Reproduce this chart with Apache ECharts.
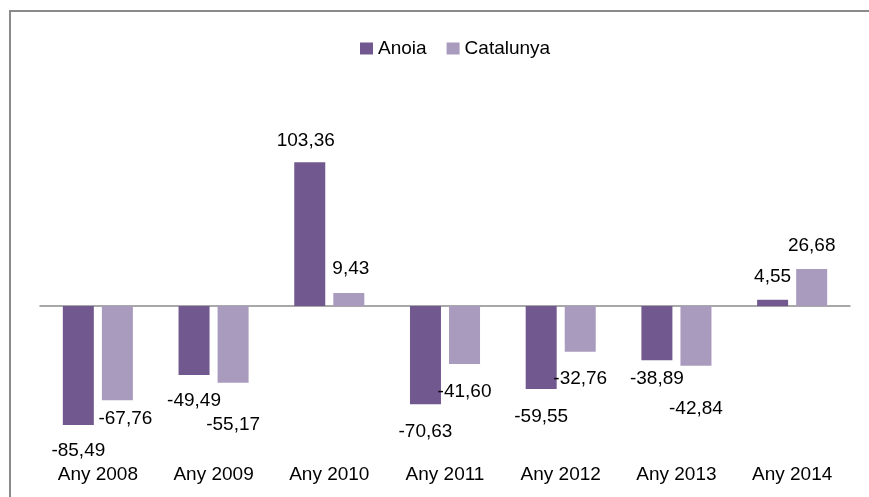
<!DOCTYPE html>
<html>
<head>
<meta charset="utf-8">
<script src="https://cdn.jsdelivr.net/npm/echarts@6/dist/echarts.min.js"></script>
<style>html,body{margin:0;padding:0;background:#fff;}#c{width:869px;height:497px;}</style>
</head>
<body>
<div id="c"></div>
<script>
const categories = ['Any 2008', 'Any 2009', 'Any 2010', 'Any 2011', 'Any 2012', 'Any 2013', 'Any 2014'];
const seriesNames = ['Anoia', 'Catalunya'];
const anoia = [-85.49, -49.49, 103.36, -70.63, -59.55, -38.89, 4.55];
const catalunya = [-67.76, -55.17, 9.43, -41.60, -32.76, -42.84, 26.68];

// label displacement (style): [dx, dy] of label centre from bar end
const anoiaLabelShift = [[0, 26], [0, 26], [-4, -22], [0, 28], [0, 28], [0, 19], [0, -24]];
const catalunyaLabelShift = [[8, 19], [0, 42], [2, -25], [0, 28], [0, 28], [0, 44], [0, -24]];

const FONT = '"Liberation Sans", Arial, sans-serif';
const FS = 19;
const HALF = 10;

function fmt(v) { return v.toFixed(2).replace('.', ','); }

function buildData(values, shifts) {
  return values.map((v, i) => {
    const s = shifts[i];
    const neg = v < 0;
    return {
      value: v,
      label: {
        position: neg ? 'bottom' : 'top',
        distance: 0,
        offset: [s[0], neg ? s[1] - HALF : s[1] + HALF]
      }
    };
  });
}

const chart = echarts.init(document.getElementById('c'), null, { renderer: 'canvas' });
const labelCommon = {
  show: true,
  color: '#000',
  fontFamily: FONT,
  fontSize: FS,
  formatter: p => fmt(p.value)
};
chart.setOption({
  backgroundColor: '#fff',
  animation: false,
  textStyle: { fontFamily: FONT },
  graphic: [{
    type: 'rect',
    shape: { x: 10, y: 11, width: 950, height: 600 },
    style: { fill: 'none', stroke: '#8a8a8a', lineWidth: 2 },
    silent: true,
    z: -10
  }],
  legend: {
    data: seriesNames,
    left: 355,
    top: 34,
    itemWidth: 13,
    itemHeight: 12,
    itemGap: 20,
    icon: 'rect',
    textStyle: { fontFamily: FONT, fontSize: FS, color: '#000' }
  },
  grid: { left: 40, right: 19, top: 111.4, bottom: 37.9, containLabel: false },
  xAxis: [{
    type: 'category',
    data: categories,
    axisLine: { show: false, onZero: false },
    axisTick: { show: false },
    axisLabel: { color: '#000', fontFamily: FONT, fontSize: FS, margin: 6 },
    splitLine: { show: false }
  }, {
    type: 'category',
    data: categories,
    position: 'bottom',
    axisLine: { show: true, onZero: true, lineStyle: { color: '#8c8c8c', width: 1.5 } },
    axisTick: { show: false },
    axisLabel: { show: false },
    splitLine: { show: false }
  }],
  yAxis: {
    type: 'value',
    min: -110,
    max: 140,
    show: false,
    splitLine: { show: false }
  },
  series: [{
    name: seriesNames[0],
    type: 'bar',
    xAxisIndex: 0,
    barWidth: 31,
    barGap: '26%',
    itemStyle: { color: '#71588F' },
    label: labelCommon,
    data: buildData(anoia, anoiaLabelShift)
  }, {
    name: seriesNames[1],
    type: 'bar',
    xAxisIndex: 0,
    barWidth: 31,
    barGap: '26%',
    itemStyle: { color: '#A99BBD' },
    label: labelCommon,
    data: buildData(catalunya, catalunyaLabelShift)
  }]
});
</script>
</body>
</html>
